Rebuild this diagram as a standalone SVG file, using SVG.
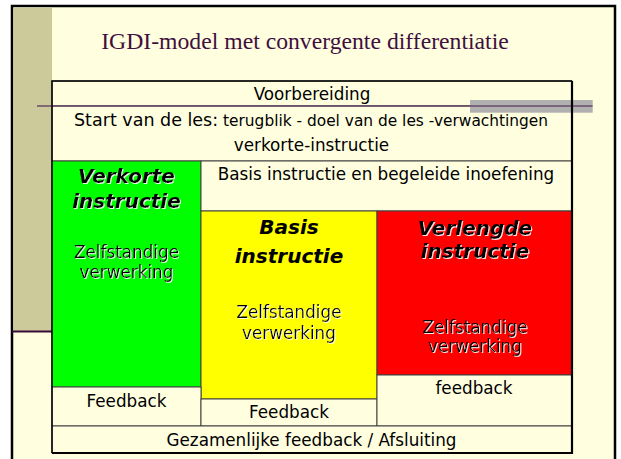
<svg xmlns="http://www.w3.org/2000/svg" width="621" height="459" viewBox="0 0 621 459">
<style>
.cell{stroke:#404040;stroke-width:1}
.cream{fill:#FFFFE0}
.t{font-family:"DejaVu Sans",Verdana,sans-serif;font-size:16.8px;fill:#000;text-anchor:middle}
.b{font-family:"DejaVu Sans",Verdana,sans-serif;font-size:20px;font-weight:bold;font-style:italic;fill:#000;text-anchor:middle}
.sh{filter:url(#shadow)}
</style>
<defs>
<filter id="shadow" x="-10%" y="-30%" width="120%" height="160%">
<feDropShadow dx="1" dy="1" stdDeviation="0" flood-color="#FFFFFF" flood-opacity="0.9"/>
</filter>
</defs>
<rect x="0" y="0" width="621" height="459" fill="#FFFFFF"/>
<rect x="12" y="6" width="603" height="470" fill="#FFFFE0" stroke="#000" stroke-width="2.5"/>
<rect x="13.5" y="7.5" width="38.5" height="324" fill="#CCCA9A"/>
<line x1="12" y1="331.5" x2="52" y2="331.5" stroke="#3a0a3a" stroke-width="2"/>
<text x="305" y="49" font-family="Liberation Serif, Times New Roman, serif" font-size="23.7" fill="#3f0f3f" text-anchor="middle">IGDI-model met convergente differentiatie</text>

<g id="voorbereiding">
<rect class="cell cream" x="52" y="81" width="520" height="25"/>
<text class="t" x="312" y="100">Voorbereiding</text>
</g>
<g id="start">
<rect class="cell cream" x="52" y="106" width="520" height="55"/>
<text class="t" x="74" y="125.7" style="text-anchor:start"><tspan font-size="17.5">Start van de les:</tspan><tspan font-size="15.4"> terugblik - doel van de les -verwachtingen</tspan></text>
<text class="t" x="311.5" y="151">verkorte-instructie</text>
</g>
<g id="verkorte">
<rect class="cell" x="52" y="161" width="149" height="226" fill="#00FF00"/>
<text class="b sh" x="126.5" y="183">Verkorte</text>
<text class="b sh" x="126.5" y="208">instructie</text>
<text class="t sh" x="126.5" y="258.3">Zelfstandige</text>
<text class="t sh" x="126.5" y="278.3">verwerking</text>
</g>
<g id="basis-inoefening">
<rect class="cell cream" x="201" y="161" width="371" height="50"/>
<text class="t" x="386" y="180">Basis instructie en begeleide inoefening</text>
</g>
<g id="basis">
<rect class="cell" x="201" y="211" width="176" height="188" fill="#FFFF00"/>
<text class="b" x="289" y="234">Basis</text>
<text class="b" x="289" y="263">instructie</text>
<text class="t sh" x="289" y="318.3">Zelfstandige</text>
<text class="t sh" x="289" y="339">verwerking</text>
</g>
<g id="verlengde">
<rect class="cell" x="377" y="211" width="195" height="164" fill="#FF0000"/>
<text class="b sh" x="475" y="235">Verlengde</text>
<text class="b sh" x="475" y="258.3">instructie</text>
<text class="t sh" x="475" y="332.7" fill="#200000">Zelfstandige</text>
<text class="t sh" x="475" y="351.7" fill="#200000">verwerking</text>
</g>
<g id="feedback-verkorte">
<rect class="cell cream" x="52" y="387" width="149" height="39"/>
<text class="t" x="126.5" y="406.7">Feedback</text>
</g>
<g id="feedback-basis">
<rect class="cell cream" x="201" y="399" width="176" height="27"/>
<text class="t" x="289" y="418.3">Feedback</text>
</g>
<g id="feedback-verlengde">
<rect class="cell cream" x="377" y="375" width="195" height="51"/>
<text class="t" x="474" y="394">feedback</text>
</g>
<g id="afsluiting">
<rect class="cell cream" x="52" y="426" width="520" height="27"/>
<text class="t" x="311.5" y="446">Gezamenlijke feedback / Afsluiting</text>
</g>
<g id="connectors"></g>
<rect x="470" y="100" width="122.7" height="12.7" fill="#B0B0B0"/>
<line x1="37" y1="106" x2="592.5" y2="106" stroke="#6b4a6b" stroke-width="1.7"/>
<path d="M52,453 V81 H572" fill="none" stroke="#000" stroke-width="1.5"/>
<path d="M572,81 V453 H52" fill="none" stroke="#000" stroke-width="2.2"/>
</svg>
